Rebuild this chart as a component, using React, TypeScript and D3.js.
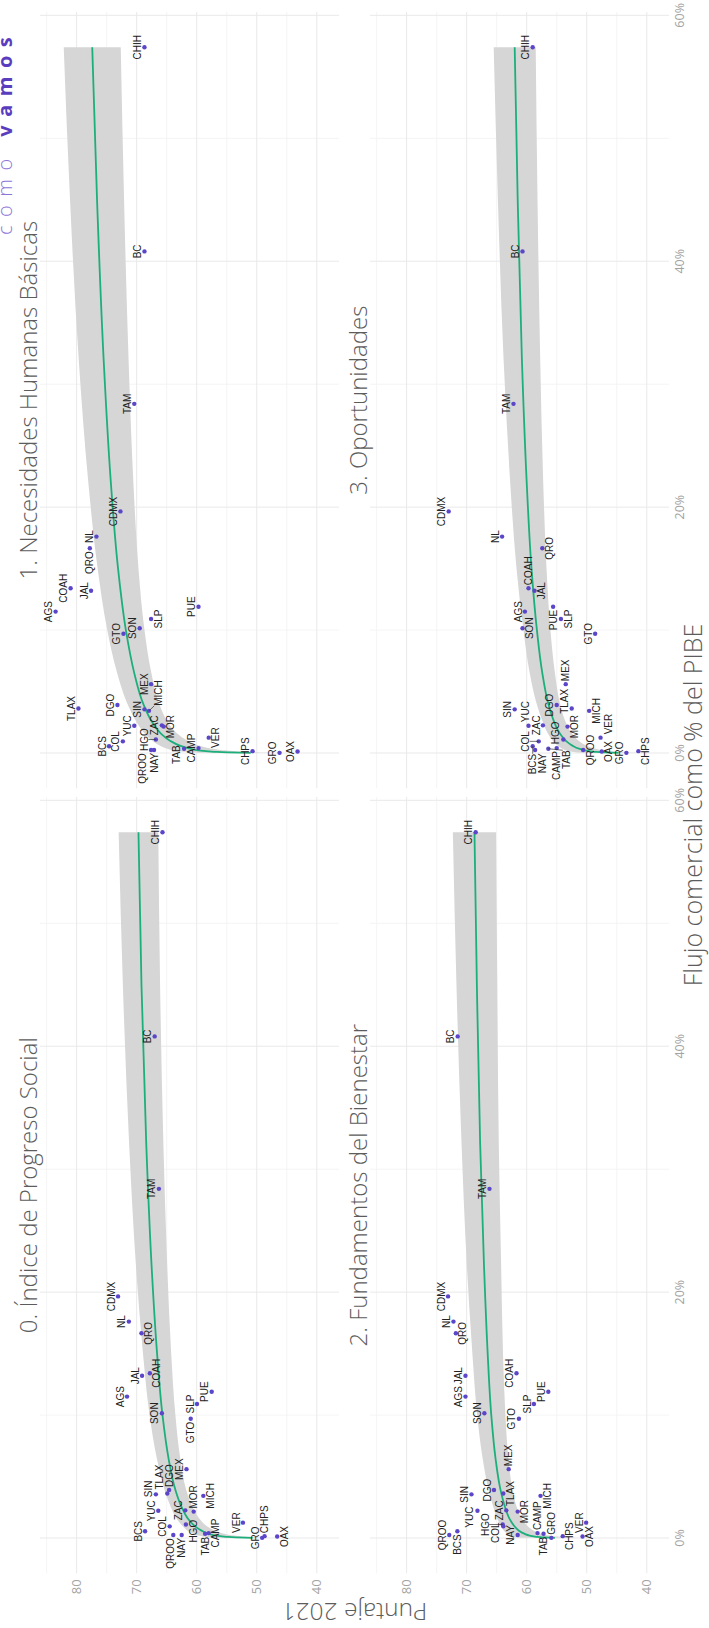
import React, { useMemo } from "react";
import * as d3 from "d3";

// ---------------- DATA ----------------
const states = ["AGS","BC","BCS","CAMP","CHIH","CHPS","COAH","COL","CDMX","DGO","GRO","GTO","HGO","JAL","MEX","MICH","MOR","NAY","NL","OAX","PUE","QRO","QROO","SIN","SLP","SON","TAB","TAM","TLAX","VER","YUC","ZAC"];
// Flujo comercial como % del PIBE
const flujoPct = [11.5,40.8,0.55,0.4,57.4,0.15,13.4,0.95,19.65,3.9,0.015,9.7,1.1,13.2,5.6,3.43,2.15,0.25,17.6,0.12,11.9,16.65,0.25,3.55,10.9,10.15,0.35,28.4,3.62,1.25,2.22,2.25];
// Puntaje 2021 por componente
const indice = [71.6,67.0,68.6,58.0,65.7,48.7,67.8,64.5,73.1,64.6,49.1,61.0,61.8,69.1,61.7,58.9,60.5,62.5,71.3,46.6,57.5,69.2,63.9,66.8,59.95,65.8,58.6,66.3,64.9,52.3,66.4,61.9];
const necesidades = [83.5,68.7,74.6,59.7,68.7,50.7,81.0,72.3,72.7,73.2,46.2,72.2,66.8,77.6,67.6,67.95,65.5,67.1,76.7,43.2,59.7,77.8,67.6,68.7,67.6,69.5,62.1,70.4,79.7,58.0,70.4,65.8];
const fundamentos = [70.2,71.5,71.55,58.2,68.5,54.0,61.7,63.9,73.1,65.45,55.9,61.3,64.0,70.2,63.0,57.7,61.5,61.5,72.2,50.7,56.4,71.8,72.9,69.2,58.8,67.05,57.2,66.2,63.9,50.1,68.2,63.4];
const oportunidades = [60.3,60.7,59.0,55.0,59.0,41.4,59.7,58.0,73.0,55.0,43.4,48.6,53.9,58.7,53.5,49.6,53.2,58.6,64.1,47.5,55.6,57.4,50.6,62.0,54.3,60.7,56.4,62.2,52.5,47.7,59.7,57.3];

// Fitted curve at these x positions
const fitX = [0.015,0.05,0.1,0.2,0.35,0.6,1,1.6,2.5,4,6.5,10,15,22,32,45,57.4];
const fit0 = [50.7,53.5,55.1,56.7,58.0,59.2,60.4,61.5,62.5,63.6,64.7,65.7,66.6,67.5,68.4,69.2,69.7];
const fit1 = [51.0,54.85,57.1,59.3,61.1,62.8,64.45,66.0,67.4,68.9,70.4,71.8,73.1,74.3,75.5,76.6,77.4];
const fit2 = [55.3,57.3,58.4,59.5,60.4,61.3,62.1,62.9,63.6,64.4,65.2,65.9,66.5,67.1,67.75,68.3,68.7];
const fit3 = [44.7,47.2,48.7,50.1,51.3,52.4,53.5,54.5,55.4,56.4,57.4,58.3,59.2,60.0,60.8,61.5,62.0];
// Half-width of the confidence band
const band0 = [5.1,4.1,3.5,3.0,2.6,2.3,2.0,1.9,1.8,1.8,1.95,2.15,2.35,2.6,2.85,3.1,3.3];
const band1 = [7.4,5.9,5.1,4.35,3.8,3.3,2.95,2.7,2.6,2.65,2.85,3.1,3.4,3.75,4.15,4.5,4.75];
const band2 = [5.55,4.45,3.85,3.25,2.85,2.5,2.2,2.05,1.95,2.0,2.15,2.35,2.55,2.85,3.1,3.4,3.6];
const band3 = [5.4,4.35,3.75,3.2,2.75,2.4,2.15,2.0,1.9,1.95,2.1,2.25,2.5,2.75,3.05,3.3,3.5];

const panelTitles = ["0. Índice de Progreso Social","1. Necesidades Humanas Básicas","2. Fundamentos del Bienestar","3. Oportunidades"];
const xTicks = [0,20,40,60];
const xMinor = [10,30,50];
const yTicks = [40,50,60,70,80];
const yMinor = [45,55,65,75,85];
const xTitle = "Flujo comercial como % del PIBE";
const yTitle = "Puntaje 2021";

// ---------------- LAYOUT (landscape frame, rotated at the end) ----------------
const W = 1628;
const colX = [[54.7, 831], [839.7, 1616]];
const rowY = [[40, 339], [370, 669]];
const xDomain = [-2.87, 60.27];
const yDomain = [36.3, 86.1];

const panelDefs = [
  { title: panelTitles[0], values: indice, fit: fit0, band: band0, col: 0, row: 0 },
  { title: panelTitles[1], values: necesidades, fit: fit1, band: band1, col: 1, row: 0 },
  { title: panelTitles[2], values: fundamentos, fit: fit2, band: band2, col: 0, row: 1 },
  { title: panelTitles[3], values: oportunidades, fit: fit3, band: band3, col: 1, row: 1 },
];

const LABEL_SIZE = 10;
const LABEL_FONT = `${LABEL_SIZE}px "Liberation Sans", Arial, sans-serif`;
let ctx: CanvasRenderingContext2D | null = null;
function textWidth(s: string) {
  if (!ctx) ctx = document.createElement("canvas").getContext("2d");
  if (!ctx) return s.length * 6.5;
  ctx.font = LABEL_FONT;
  return ctx.measureText(s).width;
}

type Lab = { name: string; px: number; py: number; w: number; h: number; x: number; y: number };

// greedy label placement (ggrepel-like: labels next to their point, no overlaps)
function placeLabels(L: Lab[], x0: number, x1: number, y0: number, y1: number) {
  const pad = 1.3, r = 2.6;
  const dens = L.map((a) => L.filter((b) => Math.hypot(a.px - b.px, a.py - b.py) < 28).length);
  const order = L.map((_, i) => i).sort((a, b) => dens[b] - dens[a] || a - b);
  const angles = [-90, 90, 180, 0, -140, -40, 140, 40, -115, -65, 115, 65, 160, -160, 20, -20].map((d) => (d * Math.PI) / 180);
  const placed: Lab[] = [];
  for (const i of order) {
    const a = L[i];
    let found = false;
    for (let d = 1.5; d < 260 && !found; d += 1.5) {
      for (const ang of angles) {
        const cx = a.px + Math.cos(ang) * (a.w / 2 + d);
        const cy = a.py + Math.sin(ang) * (a.h / 2 + d);
        if (cx - a.w / 2 < x0 + 1 || cx + a.w / 2 > x1 - 1 || cy - a.h / 2 < y0 + 1 || cy + a.h / 2 > y1 - 1) continue;
        let ok = true;
        for (const q of placed) {
          if (Math.abs(cx - q.x) < (a.w + q.w) / 2 + pad && Math.abs(cy - q.y) < (a.h + q.h) / 2 + pad) { ok = false; break; }
        }
        if (!ok) continue;
        for (const q of L) {
          if (Math.abs(cx - q.px) < a.w / 2 + r && Math.abs(cy - q.py) < a.h / 2 + r) { ok = false; break; }
        }
        if (!ok) continue;
        a.x = cx; a.y = cy; found = true; break;
      }
    }
    if (!found) { a.x = a.px; a.y = a.py - 8; }
    placed.push(a);
  }
  return L;
}

function buildPanels() {
  return panelDefs.map((pd) => {
    const [x0, x1] = colX[pd.col];
    const [y0, y1] = rowY[pd.row];
    const x = d3.scaleLinear().domain(xDomain).range([x0, x1]);
    const y = d3.scaleLinear().domain(yDomain).range([y1, y0]);
    const labs: Lab[] = states.map((s, i) => ({
      name: s, px: x(flujoPct[i]), py: y(pd.values[i]), w: textWidth(s), h: 8, x: 0, y: 0,
    }));
    placeLabels(labs, x0, x1, y0, y1);
    const fitData = fitX.map((f, i) => ({ f, v: pd.fit[i], lo: pd.fit[i] - pd.band[i], hi: pd.fit[i] + pd.band[i] }));
    const line = d3.line<any>().x((d) => x(d.f)).y((d) => y(d.v)).curve(d3.curveMonotoneX)(fitData) || "";
    const area = d3.area<any>().x((d) => x(d.f)).y0((d) => y(d.lo)).y1((d) => y(d.hi)).curve(d3.curveMonotoneX)(fitData) || "";
    return { ...pd, x, y, x0, x1, y0, y1, labs, line, area };
  });
}

export default function App() {
  const panels = useMemo(() => buildPanels(), []);
  const sans = '"Open Sans", "Noto Sans", sans-serif';
  return (
    <svg width={709} height={1628} style={{ position: "absolute", left: 0, top: 0, display: "block" }}>
      <rect x={0} y={0} width={709} height={1628} fill="#ffffff" />
      <g transform={`translate(0,${W}) rotate(-90)`}>
        {panels.map((p, pi) => (
          <g key={pi}>
            {xMinor.map((t) => (
              <line key={"xm" + t} x1={p.x(t)} x2={p.x(t)} y1={p.y0} y2={p.y1} stroke="#f1f1f1" strokeWidth={0.8} />
            ))}
            {yMinor.map((t) => (
              <line key={"ym" + t} x1={p.x0} x2={p.x1} y1={p.y(t)} y2={p.y(t)} stroke="#f1f1f1" strokeWidth={0.8} />
            ))}
            {xTicks.map((t) => (
              <line key={"x" + t} x1={p.x(t)} x2={p.x(t)} y1={p.y0} y2={p.y1} stroke="#e9e9e9" strokeWidth={1} />
            ))}
            {yTicks.map((t) => (
              <line key={"y" + t} x1={p.x0} x2={p.x1} y1={p.y(t)} y2={p.y(t)} stroke="#e9e9e9" strokeWidth={1} />
            ))}
            <path d={p.area} fill="#d6d6d6" />
            <path d={p.line} fill="none" stroke="#1daf7b" strokeWidth={1.8} />
            {p.labs.map((d) => (
              <circle key={d.name} cx={d.px} cy={d.py} r={2.2} fill="#5b45c9" />
            ))}
            {p.labs.map((l) => {
              const nx = Math.max(l.x - l.w / 2, Math.min(l.x + l.w / 2, l.px));
              const ny = Math.max(l.y - l.h / 2, Math.min(l.y + l.h / 2, l.py));
              const dist = Math.hypot(nx - l.px, ny - l.py);
              if (dist < 6) return null;
              return <line key={"s" + l.name} x1={l.px} y1={l.py} x2={nx} y2={ny} stroke="#333" strokeWidth={0.7} />;
            })}
            {p.labs.map((l) => (
              <text key={"t" + l.name} x={l.x} y={l.y} dy="0.36em" textAnchor="middle"
                style={{ font: LABEL_FONT }} fill="#222">{l.name}</text>
            ))}
            <text x={(p.x0 + p.x1) / 2} y={p.y0 - 3} textAnchor="middle" fontFamily={sans}
              fontWeight={300} fontSize={24} fill="#5c5c5c">{p.title}</text>
            {p.col === 0 && yTicks.map((t) => (
              <text key={"yl" + t} x={p.x0 - 6} y={p.y(t)} dy="0.35em" textAnchor="end" fontFamily={sans}
                fontSize={13} fill="#a3a3a3">{t}</text>
            ))}
            {p.row === 1 && xTicks.map((t) => (
              <text key={"xl" + t} x={p.x(t)} y={p.y1 + 15} textAnchor="middle" fontFamily={sans}
                fontSize={12.5} fill="#a3a3a3">{t + "%"}</text>
            ))}
          </g>
        ))}
        <text transform={`translate(25, ${(rowY[0][0] + rowY[1][1]) / 2}) rotate(-90)`} textAnchor="middle"
          fontFamily={sans} fontWeight={300} fontSize={24.5} fill="#5c5c5c">{yTitle}</text>
        <text x={823} y={701.5} textAnchor="middle" fontFamily={sans} fontWeight={300} fontSize={25} fill="#5c5c5c">{xTitle}</text>
        <text x={1393} y={11.5} fontFamily={sans} fontSize={20} letterSpacing={8.5}>
          <tspan fill="#8c76d8" fontWeight={300}>cómo </tspan>
          <tspan fill="#5a3dbf" fontWeight={700}>vamos</tspan>
        </text>
      </g>
    </svg>
  );
}
